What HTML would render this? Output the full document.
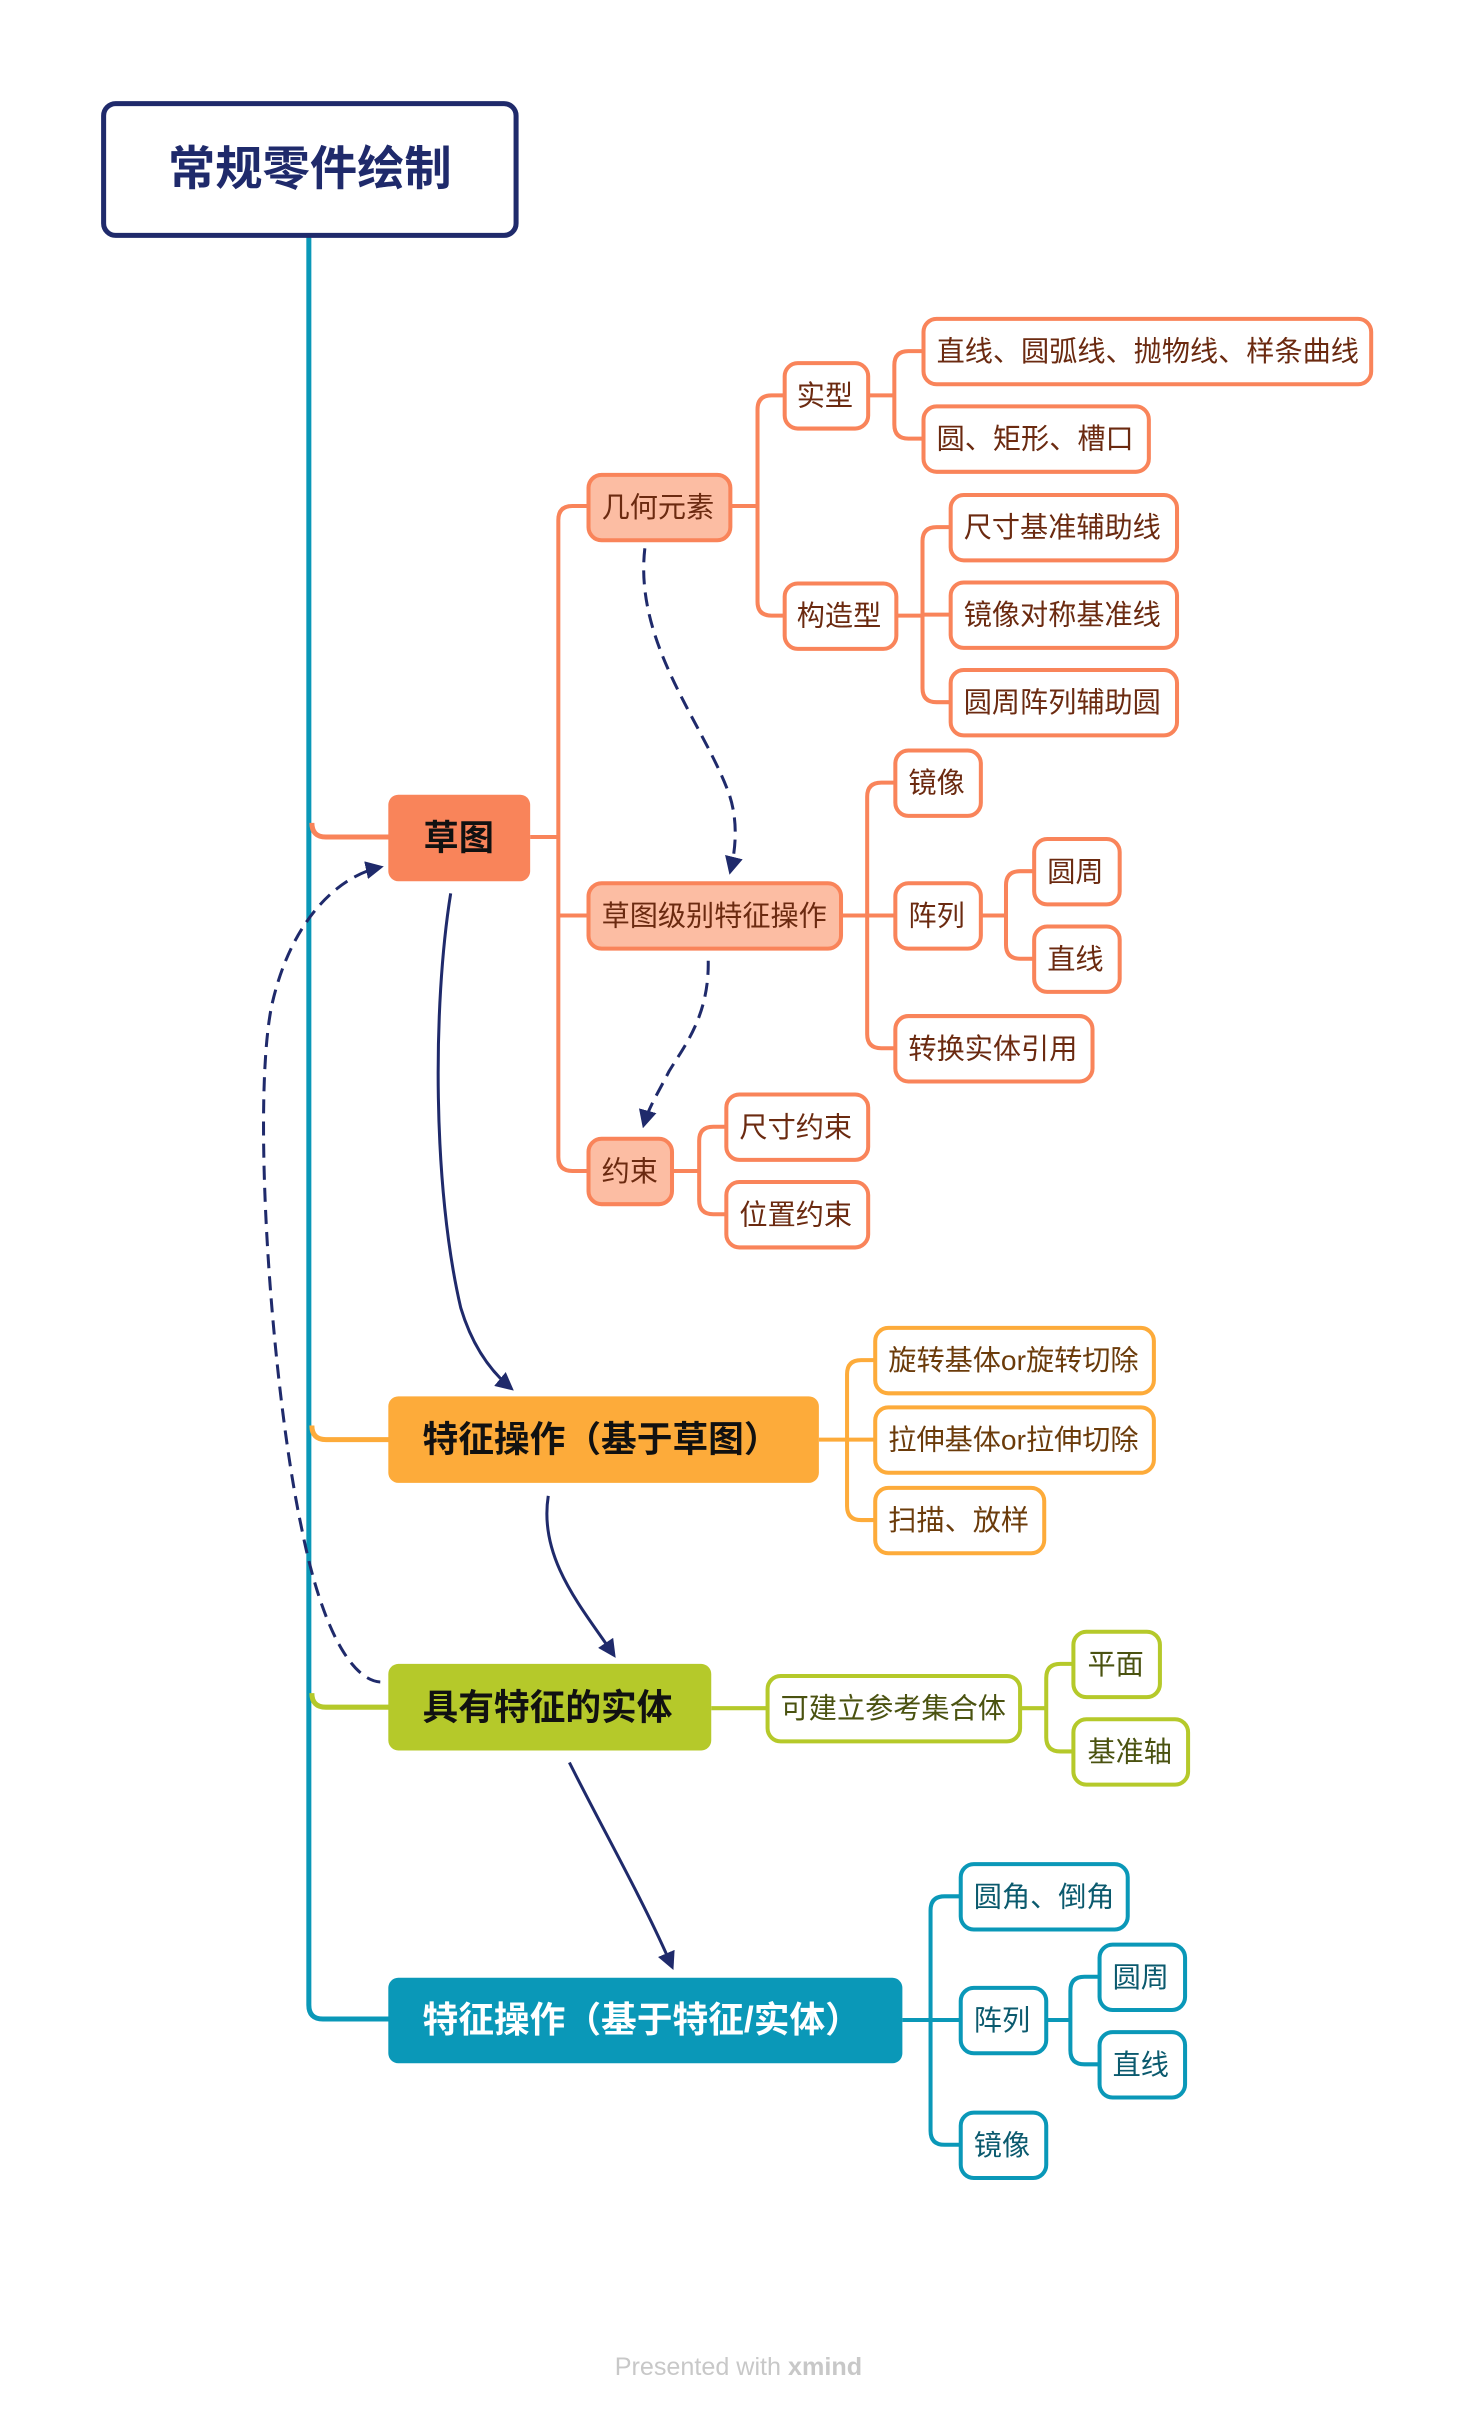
<!DOCTYPE html>
<html><head><meta charset="utf-8"><style>
html,body{margin:0;padding:0;background:#fff;}
svg{display:block;}
text{font-family:"Liberation Sans","Noto Sans CJK SC",sans-serif;}
</style></head><body>
<svg width="1472" height="2416" viewBox="0 0 1472 2416" xmlns="http://www.w3.org/2000/svg">
<defs>
<marker id="ah" viewBox="0 0 10 10" refX="8" refY="5" markerWidth="6" markerHeight="6" orient="auto"><path d="M0,0 L10,5 L0,10 z" fill="#1f2a6b"/></marker>
</defs>
<g transform="scale(1.006)">
<g fill="none" stroke="#0a98b8" stroke-width="5">
<path d="M307,235 V1993 q0,14 14,14 H390"/>
</g>
<path d="M310,818 q0,14 14,14 H390" fill="none" stroke="#f9845a" stroke-width="5"/>
<path d="M310,1417 q0,14 14,14 H390" fill="none" stroke="#fdab3a" stroke-width="5"/>
<path d="M310,1683 q0,14 14,14 H390" fill="none" stroke="#b5c92a" stroke-width="5"/>

<g fill="none" stroke="#f9845a" stroke-width="4">
<path d="M527,832 H555"/>
<path d="M584,503 H569 q-14,0 -14,14 V1150 q0,14 14,14 H584"/>
<path d="M555,910 H584"/>
<path d="M724,503 H753"/>
<path d="M780,393 H767 q-14,0 -14,14 V598 q0,14 14,14 H780"/>
<path d="M863,393 H889"/>
<path d="M918,349 H903 q-14,0 -14,14 V422 q0,14 14,14 H918"/>
<path d="M891,612 H917"/>
<path d="M945,524 H931 q-14,0 -14,14 V684 q0,14 14,14 H945"/>
<path d="M917,611 H945"/>
<path d="M836,910 H862"/>
<path d="M890,778 H876 q-14,0 -14,14 V1028 q0,14 14,14 H890"/>
<path d="M862,910 H890"/>
<path d="M975,910 H1000"/>
<path d="M1028,866 H1014 q-14,0 -14,14 V939 q0,14 14,14 H1028"/>
<path d="M668,1164 H695"/>
<path d="M722,1120 H709 q-14,0 -14,14 V1193 q0,14 14,14 H722"/>
</g>
<g fill="none" stroke="#fdab3a" stroke-width="4">
<path d="M814,1431 H842"/>
<path d="M870,1352 H856 q-14,0 -14,14 V1497 q0,14 14,14 H870"/>
<path d="M842,1431 H870"/>
</g>
<g fill="none" stroke="#b5c92a" stroke-width="4">
<path d="M707,1698 H763"/>
<path d="M1014,1698 H1040"/>
<path d="M1067,1654 H1054 q-14,0 -14,14 V1727 q0,14 14,14 H1067"/>
</g>
<g fill="none" stroke="#0a98b8" stroke-width="4">
<path d="M897,2008 H925"/>
<path d="M955,1885 H939 q-14,0 -14,14 V2118 q0,14 14,14 H955"/>
<path d="M925,2008 H955"/>
<path d="M1040,2008 H1064"/>
<path d="M1093,1965 H1078 q-14,0 -14,14 V2038 q0,14 14,14 H1093"/>
</g>

<rect x="103" y="103" width="410" height="131" rx="12" fill="#fff" stroke="#1f2a6b" stroke-width="5"/>
<text x="308" y="184" font-size="47" font-weight="bold" fill="#1f2a6b" text-anchor="middle">常规零件绘制</text>

<rect x="386" y="790" width="141" height="86" rx="10" fill="#f9845a"/>
<text x="456" y="845" font-size="35" font-weight="bold" fill="#111" text-anchor="middle">草图</text>
<rect x="386" y="1388" width="428" height="86" rx="10" fill="#fdab3a"/>
<text x="420" y="1443" font-size="35.5" font-weight="bold" fill="#111">特征操作（基于草图）</text>
<rect x="386" y="1654" width="321" height="86" rx="10" fill="#b5c92a"/>
<text x="420" y="1709" font-size="35.5" font-weight="bold" fill="#111">具有特征的实体</text>
<rect x="386" y="1966" width="511" height="85" rx="10" fill="#0a98b8"/>
<text x="420" y="2020" font-size="35.5" font-weight="bold" fill="#fff">特征操作（基于特征/实体）</text>

<g stroke="#f9845a" stroke-width="4">
<rect x="585" y="472" width="141" height="65" rx="13" fill="#fcbda3"/>
<rect x="585" y="878" width="251" height="65" rx="13" fill="#fcbda3"/>
<rect x="585" y="1132" width="83" height="65" rx="13" fill="#fcbda3"/>
<g fill="#fff">
<rect x="780" y="361" width="83" height="65" rx="13"/>
<rect x="780" y="580" width="111" height="65" rx="13"/>
<rect x="918" y="317" width="445" height="65" rx="13"/>
<rect x="918" y="404" width="224" height="65" rx="13"/>
<rect x="945" y="492" width="225" height="65" rx="13"/>
<rect x="945" y="579" width="225" height="65" rx="13"/>
<rect x="945" y="666" width="225" height="65" rx="13"/>
<rect x="890" y="746" width="85" height="65" rx="13"/>
<rect x="890" y="878" width="85" height="65" rx="13"/>
<rect x="890" y="1010" width="196" height="65" rx="13"/>
<rect x="1028" y="834" width="85" height="65" rx="13"/>
<rect x="1028" y="921" width="85" height="65" rx="13"/>
<rect x="722" y="1088" width="141" height="65" rx="13"/>
<rect x="722" y="1175" width="141" height="65" rx="13"/>
</g>
</g>
<g font-size="28" fill="#6b2a10">
<text x="598" y="514">几何元素</text>
<text x="598" y="920">草图级别特征操作</text>
<text x="598" y="1174">约束</text>
<text x="792" y="403">实型</text>
<text x="792" y="622">构造型</text>
<text x="931" y="359">直线、圆弧线、抛物线、样条曲线</text>
<text x="931" y="446">圆、矩形、槽口</text>
<text x="958" y="534">尺寸基准辅助线</text>
<text x="958" y="621">镜像对称基准线</text>
<text x="958" y="708">圆周阵列辅助圆</text>
<text x="903" y="788">镜像</text>
<text x="903" y="920">阵列</text>
<text x="903" y="1052">转换实体引用</text>
<text x="1041" y="876">圆周</text>
<text x="1041" y="963">直线</text>
<text x="735" y="1130">尺寸约束</text>
<text x="735" y="1217">位置约束</text>
</g>

<g stroke="#fdab3a" stroke-width="4" fill="#fff">
<rect x="870" y="1320" width="277" height="65" rx="13"/>
<rect x="870" y="1399" width="277" height="65" rx="13"/>
<rect x="870" y="1479" width="168" height="65" rx="13"/>
</g>
<g font-size="28" fill="#6b3b0a">
<text x="883" y="1362">旋转基体or旋转切除</text>
<text x="883" y="1441">拉伸基体or拉伸切除</text>
<text x="883" y="1521">扫描、放样</text>
</g>

<g stroke="#b5c92a" stroke-width="4" fill="#fff">
<rect x="763" y="1666" width="251" height="65" rx="13"/>
<rect x="1067" y="1622" width="86" height="65" rx="13"/>
<rect x="1067" y="1709" width="114" height="65" rx="13"/>
</g>
<g font-size="28" fill="#4a5210">
<text x="776" y="1708">可建立参考集合体</text>
<text x="1081" y="1664">平面</text>
<text x="1081" y="1751">基准轴</text>
</g>

<g stroke="#0a98b8" stroke-width="4" fill="#fff">
<rect x="955" y="1853" width="166" height="65" rx="13"/>
<rect x="955" y="1976" width="85" height="65" rx="13"/>
<rect x="955" y="2100" width="85" height="65" rx="13"/>
<rect x="1093" y="1933" width="85" height="65" rx="13"/>
<rect x="1093" y="2020" width="85" height="65" rx="13"/>
</g>
<g font-size="28" fill="#0b5a6e">
<text x="968" y="1895">圆角、倒角</text>
<text x="968" y="2018">阵列</text>
<text x="968" y="2142">镜像</text>
<text x="1106" y="1975">圆周</text>
<text x="1106" y="2062">直线</text>
</g>

<g fill="none" stroke="#1f2a6b" stroke-width="3">
<path d="M641,545 C630,640 700,720 725,790 C735,820 730,850 726,866" stroke-dasharray="14,8" marker-end="url(#ah)"/>
<path d="M704,955 C705,1010 680,1040 665,1065 C655,1085 645,1100 640,1118" stroke-dasharray="14,8" marker-end="url(#ah)"/>
<path d="M378,1672 C350,1670 320,1620 300,1520 C270,1380 250,1100 270,1000 C290,910 340,870 378,862" stroke-dasharray="14,8" marker-end="url(#ah)"/>
<path d="M448,888 C430,1000 430,1180 458,1300 C470,1340 490,1365 508,1380" marker-end="url(#ah)"/>
<path d="M545,1487 C535,1550 580,1600 610,1645" marker-end="url(#ah)"/>
<path d="M566,1752 C600,1820 640,1890 668,1955" marker-end="url(#ah)"/>
</g>

<text x="734" y="2361" font-size="25" fill="#c8c8c8" text-anchor="middle">Presented with <tspan font-weight="bold">xmind</tspan></text>
</g>
</svg>
</body></html>
